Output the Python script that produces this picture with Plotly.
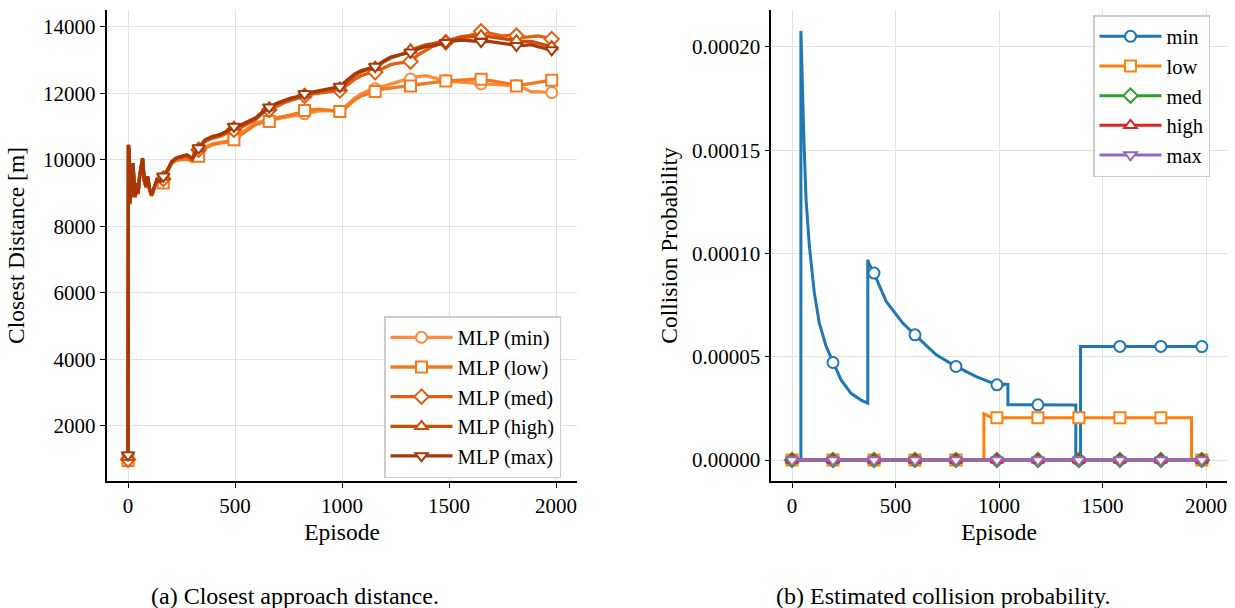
import plotly.graph_objects as go

# ---------------- (a) Closest approach distance ----------------
EPISODES_A = [0, 2, 5, 9, 13, 18, 23, 28, 34, 40, 47, 54, 61, 68, 76, 84, 92, 100, 110, 122,
              135, 150, 165, 185, 205, 225, 250, 275, 300, 330, 360, 395, 430, 460, 495, 530,
              560, 595, 630, 660, 695, 725, 760, 795, 825, 860, 895, 925, 960, 990, 1025, 1060,
              1090, 1125, 1155, 1190, 1225, 1255, 1290, 1320, 1355, 1390, 1420, 1455, 1485,
              1520, 1555, 1585, 1620, 1650, 1685, 1720, 1750, 1785, 1815, 1850, 1885, 1915,
              1950, 1980, 1999]

DIST_MIN = [1000, 10400, 10250, 8650, 9550, 8850, 9850, 9350, 8850, 9250, 8950, 9450, 9750, 10000,
            9350, 9150, 9450, 9100, 8900, 9100, 9350, 9300, 9450, 9650, 9900, 10000, 10050, 10050,
            9950, 10120, 10380, 10480, 10520, 10550, 10650, 10800, 10950, 11100, 11150, 11200,
            11230, 11260, 11300, 11330, 11380, 11420, 11470, 11480, 11470, 11460, 11650, 11850,
            11980, 12080, 12130, 12200, 12280, 12350, 12400, 12430, 12500, 12530, 12480, 12420,
            12380, 12350, 12330, 12310, 12300, 12280, 12270, 12260, 12250, 12240, 12230, 12150,
            12040, 12050, 12030, 12020, 12000]
DIST_LOW = [950, 10420, 10270, 8680, 9580, 8870, 9870, 9380, 8870, 9270, 8970, 9470, 9770, 10020,
            9370, 9170, 9470, 9120, 8920, 9120, 9370, 9320, 9300, 9650, 9900, 9980, 10000, 10020,
            9950, 10100, 10350, 10450, 10500, 10520, 10600, 10750, 10900, 11050, 11120, 11150,
            11250, 11300, 11350, 11400, 11480, 11500, 11520, 11500, 11470, 11450, 11600, 11800,
            11920, 12000, 12050, 12120, 12150, 12180, 12200, 12220, 12260, 12300, 12330, 12350,
            12370, 12380, 12400, 12410, 12420, 12420, 12380, 12360, 12320, 12280, 12220, 12250,
            12300, 12330, 12360, 12390, 12400]
DIST_MED = [980, 10430, 10280, 8690, 9590, 8880, 9880, 9390, 8880, 9280, 8980, 9480, 9780, 10030,
            9380, 9180, 9480, 9130, 8930, 9130, 9380, 9330, 9420, 9680, 9920, 10020, 10070, 10100,
            10000, 10300, 10550, 10650, 10700, 10800, 10900, 10980, 11080, 11200, 11400, 11500,
            11620, 11700, 11780, 11850, 11920, 11980, 12000, 12030, 12050, 12080, 12250, 12420,
            12530, 12600, 12630, 12750, 12850, 12900, 12920, 12950, 13150, 13300, 13400, 13480,
            13530, 13620, 13700, 13720, 13780, 13860, 13800, 13760, 13720, 13740, 13730, 13680,
            13700, 13720, 13680, 13630, 13600]
DIST_HIGH = [1050, 10440, 10290, 8700, 9600, 8890, 9890, 9400, 8890, 9290, 8990, 9490, 9790, 10040,
             9390, 9190, 9490, 9140, 8940, 9140, 9390, 9340, 9480, 9690, 9940, 10040, 10090, 10130,
             10030, 10330, 10580, 10680, 10760, 10840, 10980, 11030, 11120, 11230, 11430, 11560,
             11680, 11760, 11830, 11880, 11950, 12000, 12060, 12100, 12130, 12160, 12350, 12540,
             12650, 12730, 12780, 12920, 13050, 13120, 13200, 13300, 13380, 13450, 13480, 13530,
             13570, 13620, 13680, 13690, 13700, 13730, 13700, 13680, 13640, 13610, 13580, 13560,
             13560, 13500, 13450, 13400, 13420]
DIST_MAX = [1120, 10450, 10300, 8700, 9600, 8900, 9900, 9400, 8900, 9300, 9000, 9500, 9800, 10050,
            9400, 9200, 9500, 9150, 8950, 9150, 9400, 9350, 9500, 9700, 9950, 10050, 10100, 10150,
            10050, 10350, 10600, 10700, 10750, 10850, 11000, 11050, 11150, 11250, 11450, 11580,
            11700, 11780, 11850, 11900, 11980, 12030, 12080, 12120, 12150, 12200, 12400, 12580,
            12680, 12750, 12800, 12950, 13080, 13130, 13180, 13230, 13330, 13400, 13420, 13480,
            13520, 13570, 13600, 13580, 13560, 13550, 13560, 13540, 13500, 13470, 13430, 13440,
            13460, 13400, 13350, 13300, 13320]

MARKER_EP_A = [0, 165, 330, 495, 660, 825, 990, 1155, 1320, 1485, 1650, 1815, 1980]
NAMES_A = ["MLP (min)", "MLP (low)", "MLP (med)", "MLP (high)", "MLP (max)"]

# ---------------- (b) Estimated collision probability ----------------
EP_B_MIN = [0, 43, 43, 47, 52, 58, 68, 84, 108, 132, 165, 198, 237, 285, 334, 366, 366, 370,
            396, 455, 535, 594, 697, 792, 890, 990, 1020, 1022, 1043, 1043, 1188, 1371, 1371,
            1386, 1394, 1394, 1584, 1782, 1980, 1999]
P_MIN = [0.0, 0.0, 0.0002077, 0.000192, 0.000173, 0.0001536, 0.0001261, 0.0001035, 0.0000808,
         0.0000663, 0.000055, 0.0000472, 0.0000388, 0.0000323, 0.000029, 0.0000275, 0.000097,
         0.0000955, 0.0000905, 0.0000768, 0.0000663, 0.0000606, 0.0000509, 0.0000453,
         0.0000404, 0.0000364, 0.0000362, 0.0000368, 0.0000366, 0.0000268, 0.0000267,
         0.0000266, 0.0, 0.0, 0.0, 0.0000549, 0.000055, 0.000055, 0.0000549, 0.0000549]
EP_B_LOW = [0, 198, 396, 594, 792, 927, 927, 955, 990, 1188, 1386, 1584, 1782, 1930, 1930, 1980, 1999]
P_LOW = [0.0, 0.0, 0.0, 0.0, 0.0, 0.0, 0.0000223, 0.000021, 0.0000205, 0.0000205, 0.0000205,
         0.0000205, 0.0000205, 0.0000205, 0.0, 0.0, 0.0]
EP_B_ZERO = [0, 198, 396, 594, 792, 990, 1188, 1386, 1584, 1782, 1980, 1999]
P_MED = [0.0, 0.0, 0.0, 0.0, 0.0, 0.0, 0.0, 0.0, 0.0, 0.0, 0.0, 0.0]
P_HIGH = [0.0, 0.0, 0.0, 0.0, 0.0, 0.0, 0.0, 0.0, 0.0, 0.0, 0.0, 0.0]
P_MAX = [0.0, 0.0, 0.0, 0.0, 0.0, 0.0, 0.0, 0.0, 0.0, 0.0, 0.0, 0.0]
MARKER_EP_B = [0, 198, 396, 594, 792, 990, 1188, 1386, 1584, 1782, 1980]
NAMES_B = ["min", "low", "med", "high", "max"]

COLORS_A = ["#fd8d3c", "#f5781f", "#e55e0e", "#cc4c06", "#a5390a"]
COLORS_B = ["#1f77b4", "#ff7f0e", "#2ca02c", "#d62728", "#9467bd"]
SYMBOLS = ["circle", "square", "diamond", "triangle-up", "triangle-down"]

FONT = "Liberation Serif"
fig = go.Figure()


def add_series(x, y, marks, name, color, symbol, xa, ya, legend, lw, msize, group):
    fig.add_trace(go.Scatter(x=x, y=y, mode="lines", line=dict(color=color, width=lw),
                             xaxis=xa, yaxis=ya, showlegend=False, hoverinfo="skip"))
    seen = set()
    mx, my = [], []
    for a, b in zip(x, y):
        if a in marks and a not in seen:
            seen.add(a)
            mx.append(a)
            my.append(b)
    mk = dict(symbol=symbol, size=msize, color="white", line=dict(color=color, width=2))
    fig.add_trace(go.Scatter(x=mx, y=my, mode="markers", marker=mk,
                             xaxis=xa, yaxis=ya, showlegend=False, hoverinfo="skip"))
    fig.add_trace(go.Scatter(x=[None], y=[None], mode="lines+markers", name=name,
                             line=dict(color=color, width=lw), marker=mk,
                             xaxis=xa, yaxis=ya, legend=legend, legendgroup=group))


for ys, nm, c, s in zip([DIST_MIN, DIST_LOW, DIST_MED, DIST_HIGH, DIST_MAX], NAMES_A, COLORS_A, SYMBOLS):
    add_series(EPISODES_A, ys, MARKER_EP_A, nm, c, s, "x", "y", "legend", 3.3, 11, "a" + nm)

for xs, ys, nm, c, s in zip([EP_B_MIN, EP_B_LOW, EP_B_ZERO, EP_B_ZERO, EP_B_ZERO],
                            [P_MIN, P_LOW, P_MED, P_HIGH, P_MAX], NAMES_B, COLORS_B, SYMBOLS):
    add_series(xs, ys, MARKER_EP_B, nm, c, s, "x2", "y2", "legend2", 3, 11, "b" + nm)

axis_common = dict(showline=True, linecolor="black", linewidth=1.6, ticks="outside", ticklen=5,
                   tickwidth=1.3, tickcolor="black", showgrid=True, gridcolor="#e2e2e2",
                   gridwidth=1, zeroline=False, automargin=False,
                   tickfont=dict(family=FONT, size=21, color="black"))
title_font = dict(family=FONT, size=23.5, color="black")
legend_common = dict(xanchor="left", yanchor="top", bgcolor="rgba(255,255,255,0.85)",
                     bordercolor="#cccccc", borderwidth=1.5,
                     font=dict(family=FONT, size=20.5, color="black"), itemwidth=62,
                     tracegroupgap=0)

ydom = [127 / 608, 598 / 608]
fig.update_layout(
    width=1235, height=608, margin=dict(l=0, r=0, t=0, b=0),
    paper_bgcolor="white", plot_bgcolor="white",
    font=dict(family=FONT, color="black"),
    xaxis=dict(domain=[106.6 / 1235, 577.4 / 1235], range=[-100, 2100], anchor="y",
               tickvals=[0, 500, 1000, 1500, 2000],
               title=dict(text="Episode", font=title_font, standoff=7), **axis_common),
    yaxis=dict(domain=ydom, range=[337, 14502], anchor="x", tickformat="d",
               tickvals=[2000, 4000, 6000, 8000, 10000, 12000, 14000],
               title=dict(text="Closest Distance [m]", font=title_font, standoff=12), **axis_common),
    xaxis2=dict(domain=[771.3 / 1235, 1226.7 / 1235], range=[-100, 2100], anchor="y2",
                tickvals=[0, 500, 1000, 1500, 2000],
                title=dict(text="Episode", font=title_font, standoff=7), **axis_common),
    yaxis2=dict(domain=ydom, range=[-1.017e-5, 2.179e-4], anchor="x2",
                tickvals=[0, 0.00005, 0.0001, 0.00015, 0.0002], tickformat=".5f",
                title=dict(text="Collision Probability", font=title_font, standoff=8), **axis_common),
    legend=dict(x=384 / 1235, y=1 - 316 / 608, **legend_common),
    legend2=dict(x=1093 / 1235, y=1 - 15 / 608, **legend_common),
    annotations=[
        dict(text="(a) Closest approach distance.", x=295 / 1235, y=12 / 608, xref="paper",
             yref="paper", showarrow=False, xanchor="center", yanchor="middle",
             font=dict(family=FONT, size=24, color="black")),
        dict(text="(b) Estimated collision probability.", x=943 / 1235, y=12 / 608, xref="paper",
             yref="paper", showarrow=False, xanchor="center", yanchor="middle",
             font=dict(family=FONT, size=24, color="black")),
    ],
)

fig.write_html("out.html", config={"displayModeBar": False},
               post_script="document.body.style.margin='0px';document.body.style.overflow='hidden';")
